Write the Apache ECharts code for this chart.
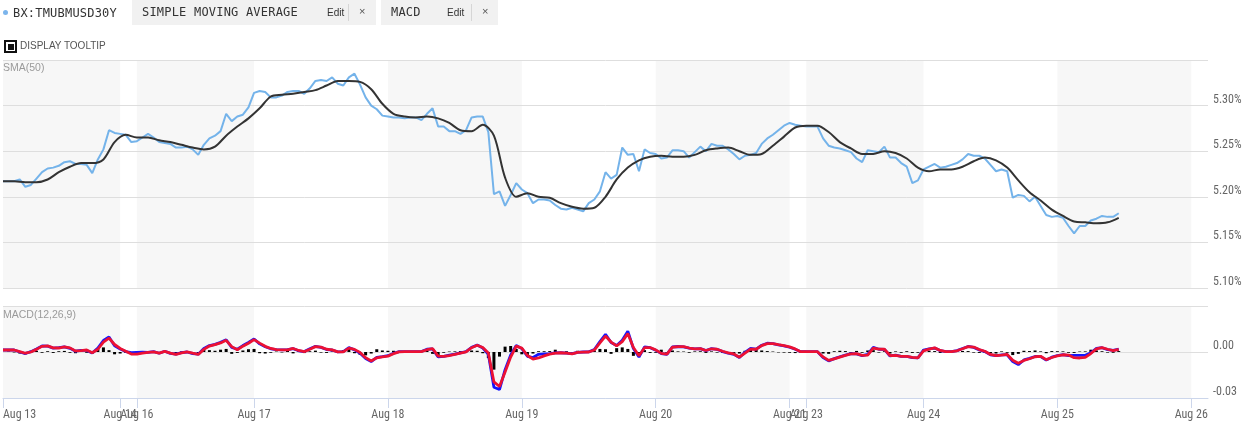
<!DOCTYPE html>
<html>
<head>
<meta charset="utf-8">
<script src="https://cdn.jsdelivr.net/npm/echarts@6/dist/echarts.min.js"></script>
<style>
  html,body{margin:0;padding:0;background:#fff;}
  #wrap{position:relative;width:1249px;height:430px;overflow:hidden;}
  #chart{position:absolute;left:0;top:0;width:1249px;height:430px;}
  .abs{position:absolute;white-space:nowrap;}
  .mono{font-family:'DejaVu Sans Mono',monospace;font-size:12px;color:#333;letter-spacing:0.2px;}
  .box{position:absolute;top:0;height:25px;background:#f1f1f1;}
  .edit{font-family:'Liberation Sans',Arial,sans-serif;font-size:10px;color:#333;top:7px;}
  .sep{position:absolute;top:4px;width:1px;height:17px;background:#d6d6d6;}
  .x{font-family:'Liberation Sans',Arial,sans-serif;font-size:11px;color:#555;top:5px;}
  .lbl{font-family:'Liberation Sans',Arial,sans-serif;font-size:10.5px;color:#9a9a9a;}
</style>
</head>
<body>
<div id="wrap">
  <div id="chart"></div>
  <div class="abs" style="left:3px;top:10px;width:5px;height:5px;border-radius:50%;background:#7cb5ec;"></div>
  <div class="abs mono" style="left:13px;top:6px;">BX:TMUBMUSD30Y</div>
  <div class="box" style="left:132px;width:244px;">
    <div class="abs mono" style="left:10px;top:5px;">SIMPLE MOVING AVERAGE</div>
    <div class="abs edit" style="left:195px;">Edit</div>
    <div class="sep" style="left:216px;"></div>
    <div class="abs x" style="left:227px;">×</div>
  </div>
  <div class="box" style="left:381px;width:117px;">
    <div class="abs mono" style="left:10px;top:5px;">MACD</div>
    <div class="abs edit" style="left:66px;">Edit</div>
    <div class="sep" style="left:90px;"></div>
    <div class="abs x" style="left:101px;">×</div>
  </div>
  <div class="abs" style="left:4px;top:40px;width:13px;height:13px;box-sizing:border-box;border:2px solid #111;background:#fff;">
    <div style="position:absolute;left:1.5px;top:1.5px;width:6px;height:6px;background:#111;"></div>
  </div>
  <div class="abs" style="left:20px;top:40px;font-family:'Liberation Sans',Arial,sans-serif;font-size:10px;color:#555;">DISPLAY TOOLTIP</div>
  <div class="abs lbl" style="left:3px;top:61px;">SMA(50)</div>
  <div class="abs lbl" style="left:3px;top:308px;">MACD(12,26,9)</div>
</div>
<script>
// ---- x axis: ordinal trading hours from the first session start ----
const TICK_HOURS  = [0, 21, 24, 45, 69, 93, 117, 141, 144, 165, 189, 213];
const TICK_LABELS = ['Aug 13','Aug 14','Aug 16','Aug 17','Aug 18','Aug 19','Aug 20','Aug 21','Aug 23','Aug 24','Aug 25','Aug 26'];
const AXIS_MAX_HOURS = 216;

// ---- yield (%) sampled every hour ----
const YIELD_STEP_H = 1;
const yields = [
5.217,5.217,5.217,5.219,5.211,5.213,5.220,5.227,5.231,5.232,
5.234,5.238,5.239,5.236,5.236,5.235,5.226,5.241,5.252,5.273,
5.270,5.269,5.268,5.260,5.261,5.265,5.269,5.265,5.260,5.259,
5.258,5.254,5.254,5.255,5.252,5.246,5.257,5.264,5.267,5.272,
5.291,5.283,5.288,5.290,5.298,5.314,5.316,5.315,5.309,5.309,
5.311,5.315,5.316,5.316,5.313,5.319,5.327,5.328,5.327,5.331,
5.324,5.322,5.331,5.335,5.323,5.309,5.300,5.296,5.289,5.288,
5.287,5.287,5.286,5.287,5.287,5.284,5.291,5.297,5.277,5.277,
5.272,5.272,5.269,5.273,5.287,5.288,5.288,5.271,5.203,5.206,
5.190,5.202,5.215,5.208,5.204,5.193,5.197,5.197,5.196,5.191,
5.187,5.186,5.188,5.186,5.184,5.193,5.197,5.206,5.227,5.220,
5.224,5.254,5.246,5.247,5.228,5.252,5.248,5.247,5.242,5.243,
5.251,5.251,5.250,5.243,5.249,5.255,5.250,5.258,5.256,5.256,
5.252,5.247,5.241,5.245,5.246,5.248,5.258,5.264,5.268,5.273,
5.278,5.281,5.279,5.278,5.277,5.277,5.277,5.264,5.256,5.254,
5.253,5.251,5.249,5.242,5.238,5.251,5.250,5.249,5.255,5.243,
5.243,5.237,5.233,5.215,5.218,5.230,5.233,5.236,5.232,5.233,
5.235,5.237,5.241,5.247,5.245,5.245,5.242,5.235,5.228,5.230,
5.228,5.199,5.202,5.201,5.195,5.200,5.190,5.180,5.178,5.179,
5.177,5.168,5.160,5.168,5.168,5.174,5.176,5.179,5.178,5.178,5.182
];

// ---- SMA(50) sampled every two hours ----
const SMA_STEP_H = 2;
const sma50 = [
5.217,5.217,5.216,5.216,5.219,5.227,5.233,5.237,5.237,5.241,
5.260,5.268,5.265,5.265,5.262,5.260,5.257,5.254,5.252,5.255,
5.267,5.277,5.286,5.297,5.310,5.312,5.313,5.315,5.317,5.322,
5.327,5.327,5.326,5.318,5.302,5.291,5.288,5.287,5.288,5.286,
5.281,5.273,5.272,5.279,5.267,5.221,5.200,5.204,5.200,5.199,
5.193,5.189,5.187,5.188,5.200,5.219,5.232,5.240,5.244,5.245,
5.244,5.244,5.246,5.251,5.253,5.254,5.250,5.246,5.247,5.256,
5.266,5.276,5.278,5.278,5.271,5.260,5.253,5.247,5.247,5.250,
5.248,5.242,5.232,5.228,5.230,5.230,5.233,5.239,5.243,5.240,
5.232,5.218,5.205,5.196,5.186,5.179,5.173,5.172,5.171,5.172,5.177
];

// ---- MACD(12,26,9), sampled every hour ----
const MACD_STEP_H = 1;
const macdLine = [
0.0013,0.0013,0.0013,0.0000,-0.0010,0.0002,0.0020,0.0040,0.0038,0.0025,
0.0028,0.0034,0.0024,0.0005,0.0010,0.0010,-0.0007,0.0025,0.0075,0.0098,
0.0040,0.0020,0.0003,-0.0004,-0.0002,-0.0001,-0.0003,0.0002,-0.0008,0.0005,
-0.0009,-0.0014,-0.0004,0.0000,-0.0010,-0.0014,0.0023,0.0042,0.0050,0.0063,
0.0080,0.0030,0.0018,0.0042,0.0062,0.0085,0.0053,0.0034,0.0021,0.0015,
0.0014,0.0015,0.0022,0.0008,0.0003,0.0021,0.0037,0.0030,0.0016,0.0013,
0.0001,0.0003,0.0029,0.0014,-0.0008,-0.0042,-0.0062,-0.0035,-0.0030,-0.0024,
-0.0008,0.0002,0.0002,0.0002,0.0002,0.0003,0.0018,0.0020,-0.0032,-0.0028,
-0.0021,-0.0014,-0.0005,0.0002,0.0031,0.0045,0.0026,-0.0015,-0.0230,-0.0245,
-0.0115,-0.0020,0.0042,0.0022,-0.0028,-0.0036,-0.0015,-0.0012,-0.0010,-0.0006,
-0.0005,-0.0007,-0.0011,-0.0002,0.0000,0.0001,0.0016,0.0068,0.0115,0.0062,
0.0042,0.0076,0.0135,0.0023,-0.0033,0.0033,0.0028,0.0012,-0.0011,-0.0016,
0.0033,0.0036,0.0034,0.0025,0.0021,0.0022,0.0009,0.0022,0.0017,0.0003,
-0.0008,-0.0015,-0.0036,-0.0002,0.0023,0.0019,0.0044,0.0057,0.0054,0.0046,
0.0040,0.0031,0.0018,0.0002,0.0002,0.0002,0.0002,-0.0036,-0.0058,-0.0043,
-0.0031,-0.0020,-0.0011,-0.0012,-0.0024,-0.0016,0.0030,0.0018,0.0017,-0.0026,
-0.0021,-0.0029,-0.0029,-0.0037,-0.0038,0.0012,0.0021,0.0026,0.0009,0.0002,
0.0003,0.0009,0.0023,0.0036,0.0030,0.0014,0.0003,-0.0018,-0.0024,-0.0019,
-0.0018,-0.0062,-0.0082,-0.0052,-0.0042,-0.0029,-0.0030,-0.0053,-0.0034,-0.0023,
-0.0017,-0.0024,-0.0022,-0.0022,-0.0022,-0.0005,0.0023,0.0028,0.0016,0.0010,0.0018
];
const signalLine = [
0.0013,0.0013,0.0013,0.0003,-0.0008,0.0000,0.0017,0.0037,0.0040,0.0027,
0.0026,0.0033,0.0027,0.0007,0.0009,0.0013,-0.0005,0.0018,0.0065,0.0091,
0.0049,0.0023,0.0005,-0.0013,-0.0014,-0.0007,-0.0002,0.0001,-0.0007,0.0004,
-0.0007,-0.0015,-0.0006,0.0001,-0.0008,-0.0016,0.0017,0.0039,0.0048,0.0059,
0.0076,0.0035,0.0015,0.0038,0.0057,0.0081,0.0058,0.0037,0.0023,0.0016,
0.0014,0.0014,0.0023,0.0010,0.0002,0.0018,0.0035,0.0032,0.0018,0.0014,
0.0001,0.0001,0.0025,0.0017,-0.0003,-0.0037,-0.0059,-0.0038,-0.0032,-0.0027,
-0.0011,0.0001,0.0002,0.0002,0.0002,0.0002,0.0015,0.0022,-0.0027,-0.0029,
-0.0023,-0.0016,-0.0007,0.0001,0.0028,0.0044,0.0029,-0.0006,-0.0195,-0.0225,
-0.0130,-0.0033,0.0038,0.0025,-0.0023,-0.0046,-0.0039,-0.0025,-0.0014,-0.0007,
-0.0005,-0.0008,-0.0012,-0.0003,-0.0001,0.0000,0.0013,0.0059,0.0104,0.0065,
0.0040,0.0068,0.0120,0.0029,-0.0024,0.0028,0.0029,0.0014,-0.0009,-0.0014,
0.0031,0.0035,0.0035,0.0026,0.0020,0.0022,0.0010,0.0021,0.0018,0.0005,
-0.0006,-0.0013,-0.0034,-0.0007,0.0019,0.0018,0.0042,0.0055,0.0055,0.0048,
0.0042,0.0033,0.0020,0.0002,0.0002,0.0002,0.0002,-0.0032,-0.0055,-0.0045,
-0.0033,-0.0022,-0.0012,-0.0011,-0.0022,-0.0020,0.0026,0.0019,0.0018,-0.0023,
-0.0022,-0.0028,-0.0028,-0.0035,-0.0038,0.0007,0.0019,0.0027,0.0010,0.0002,
0.0002,0.0008,0.0021,0.0035,0.0032,0.0016,0.0005,-0.0016,-0.0023,-0.0020,
-0.0016,-0.0054,-0.0073,-0.0055,-0.0044,-0.0031,-0.0028,-0.0050,-0.0036,-0.0025,
-0.0018,-0.0020,-0.0037,-0.0039,-0.0035,-0.0010,0.0020,0.0029,0.0018,0.0009,0.0017
];
const histogram = [
0,0.0003,-0.0003,-0.0010,-0.0015,0.0008,0.0008,-0.0005,0.0005,-0.0006,
0.0005,0.0007,-0.0005,-0.0008,0.0004,-0.0005,-0.0009,0.0020,0.0030,0.0012,
-0.0015,-0.0010,-0.0006,-0.0008,0.0003,0.0005,-0.0004,0.0006,-0.0007,0.0005,
-0.0005,-0.0008,0.0004,0.0006,-0.0006,-0.0009,0.0015,0.0012,0.0008,0.0015,
0.0020,-0.0012,-0.0006,0.0010,0.0018,0.0020,-0.0008,-0.0010,-0.0005,0.0003,
-0.0003,0.0008,-0.0009,0.0006,-0.0007,0.0005,0.0009,-0.0004,-0.0006,0.0004,
-0.0005,0.0012,0.0020,-0.0008,-0.0018,-0.0022,-0.0010,0.0018,0.0010,0.0008,
0.0008,0.0003,0,0,0,0.0002,0.0008,-0.0012,-0.0020,-0.0005,
0.0003,0.0004,0.0006,0.0005,0.0010,0.0008,-0.0008,-0.0040,-0.0115,-0.0030,
0.0035,0.0039,0.0020,-0.0015,-0.0020,-0.0010,0.0005,0.0005,0.0006,0.0015,
-0.0004,0.0005,-0.0005,0.0008,0.0004,0.0006,0.0008,0.0020,0.0018,-0.0012,
0.0025,0.0030,0.0020,-0.0025,-0.0020,0.0012,-0.0006,-0.0005,0.0015,-0.0015,
0.0010,0.0004,0.0003,-0.0005,0.0004,0.0005,-0.0006,0.0004,-0.0004,-0.0006,
-0.0005,-0.0006,-0.0010,0.0008,0.0020,0.0015,0.0010,0.0006,0.0003,-0.0003,
-0.0004,-0.0005,-0.0007,-0.0004,0,0,0,-0.0010,-0.0012,0.0005,
0.0008,0.0006,-0.0006,0.0007,-0.0005,0.0010,0.0012,-0.0004,0.0005,-0.0010,
0.0004,-0.0005,0.0005,-0.0006,-0.0005,0.0015,0.0008,0.0006,-0.0006,0.0004,
-0.0003,0.0005,0.0007,0.0006,-0.0004,-0.0006,-0.0005,-0.0008,-0.0010,0.0004,
-0.0005,-0.0020,-0.0012,0.0008,0.0006,0.0010,0.0004,-0.0008,0.0006,0.0005,
0.0004,-0.0005,-0.0006,0.0003,0.0004,0.0015,0.0010,0.0005,-0.0004,-0.0005,0.0006
];

// ---- build ----
const toXY = (arr, step) => arr.map((v, i) => [i * step, v]);
// alternate day shading: between tick i and i+1 for even i
const bands = [];
for (let i = 0; i + 1 < TICK_HOURS.length; i += 2) bands.push([TICK_HOURS[i], TICK_HOURS[i + 1]]);

const NARROW = "'Liberation Sans Narrow','Roboto Condensed','Liberation Sans',sans-serif";
const chart = echarts.init(document.getElementById('chart'), null, {renderer: 'canvas'});

function bandSeries(idx) {
  return {
    type: 'custom', xAxisIndex: idx, yAxisIndex: idx, z: 0, silent: true,
    data: bands, encode: {x: [0, 1]},
    renderItem: function (params, api) {
      const x0 = api.coord([api.value(0), 0])[0];
      const x1 = api.coord([api.value(1), 0])[0];
      const cs = params.coordSys;
      return {type: 'rect', shape: {x: x0, y: cs.y, width: x1 - x0, height: cs.height},
              style: {fill: '#f7f7f7'}};
    }
  };
}

const gridLine = {show: true, lineStyle: {color: '#dedede', width: 1}};

chart.setOption({
  animation: false,
  grid: [
    {left: 3, right: 41, top: 60, height: 228},
    {left: 3, right: 41, top: 306, height: 92}
  ],
  xAxis: [
    {type: 'value', gridIndex: 0, min: 0, max: AXIS_MAX_HOURS, z: 1,
     axisLine: {show: false, onZero: false}, axisTick: {show: false}, axisLabel: {show: false}, splitLine: {show: false}},
    {type: 'value', gridIndex: 1, min: 0, max: AXIS_MAX_HOURS, z: 1,
     axisLine: {show: true, onZero: false, lineStyle: {color: '#ccd6eb'}},
     axisTick: {show: true, customValues: TICK_HOURS, length: 10, lineStyle: {color: '#ccd6eb'}},
     axisLabel: {show: true, customValues: TICK_HOURS, margin: 11, color: '#666', fontSize: 12, fontFamily: NARROW,
       alignMinLabel: 'left',
       formatter: function (v) { const k = TICK_HOURS.indexOf(v); return k >= 0 ? TICK_LABELS[k] : ''; }},
     splitLine: {show: false}}
  ],
  yAxis: [
    {type: 'value', gridIndex: 0, position: 'right', min: 5.10, max: 5.35, interval: 0.05, z: 1,
     axisLine: {show: false, onZero: false}, axisTick: {show: false},
     axisLabel: {margin: 5, verticalAlign: 'bottom', color: '#666', fontSize: 12, fontFamily: NARROW,
       showMaxLabel: false, formatter: v => v.toFixed(2) + '%'},
     splitLine: gridLine},
    {type: 'value', gridIndex: 1, position: 'right', min: -0.03, max: 0.03, interval: 0.03, z: 1,
     axisLine: {show: false, onZero: false}, axisTick: {show: false},
     axisLabel: {margin: 5, verticalAlign: 'bottom', color: '#666', fontSize: 12, fontFamily: NARROW,
       showMaxLabel: false, formatter: v => (Math.abs(v) < 1e-9 ? 0 : v).toFixed(2)},
     splitLine: gridLine}
  ],
  series: [
    bandSeries(0),
    bandSeries(1),
    {name: 'BX:TMUBMUSD30Y', type: 'line', xAxisIndex: 0, yAxisIndex: 0, z: 3,
     data: toXY(yields, YIELD_STEP_H), showSymbol: false, lineStyle: {color: '#74b3ea', width: 2}},
    {name: 'SMA(50)', type: 'line', xAxisIndex: 0, yAxisIndex: 0, z: 4,
     data: toXY(sma50, SMA_STEP_H), showSymbol: false, smooth: 0.3, lineStyle: {color: '#333', width: 2}},
    {name: 'Histogram', type: 'bar', xAxisIndex: 1, yAxisIndex: 1, z: 3, barWidth: 3,
     data: toXY(histogram, MACD_STEP_H), itemStyle: {color: '#000'}},
    {name: 'MACD', type: 'line', xAxisIndex: 1, yAxisIndex: 1, z: 4,
     data: toXY(macdLine, MACD_STEP_H), showSymbol: false, lineStyle: {color: '#1414ff', width: 2.8}},
    {name: 'Signal', type: 'line', xAxisIndex: 1, yAxisIndex: 1, z: 5,
     data: toXY(signalLine, MACD_STEP_H), showSymbol: false, lineStyle: {color: '#ec1133', width: 2.8}}
  ]
});
</script>
</body>
</html>
